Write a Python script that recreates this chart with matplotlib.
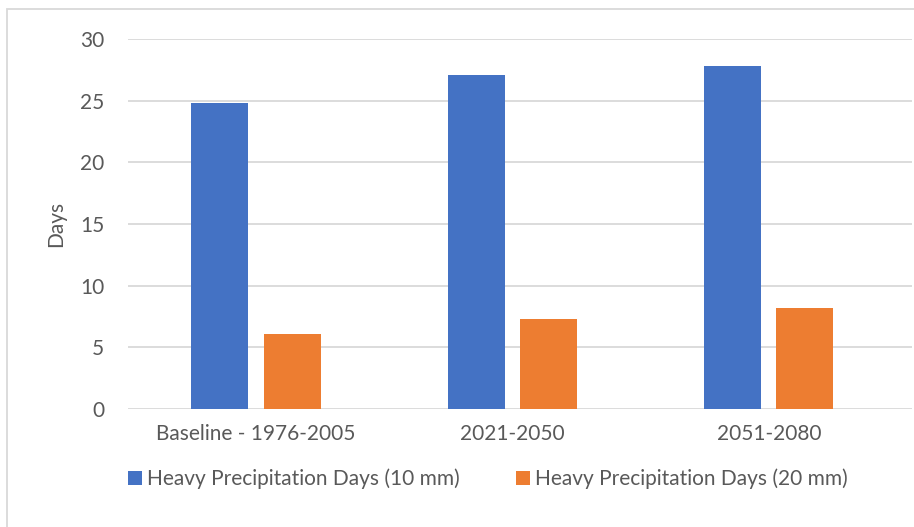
import matplotlib

matplotlib.use("Agg")
import matplotlib.pyplot as plt
import numpy as np
from matplotlib.patches import Rectangle

plt.rcParams.update({"font.family": ["Lato", "DejaVu Sans"], "font.size": 15})

PERIODS = ["Baseline - 1976-2005", "2021-2050", "2051-2080"]
DAYS_10MM = [24.8, 27.1, 27.8]
DAYS_20MM = [6.1, 7.3, 8.2]
SERIES = ["Heavy Precipitation Days (10 mm)", "Heavy Precipitation Days (20 mm)"]
COLORS = ["#4472C4", "#ED7D31"]
TEXT = "#595959"

W, H = 914, 527
fig = plt.figure(figsize=(W / 100, H / 100), dpi=100)
# plot area in pixels: x 128..912, y 39..409
ax = fig.add_axes([128 / W, 1 - 409 / H, (912 - 128) / W, (409 - 39) / H])

x = np.arange(len(PERIODS))
width = 0.222
ax.bar(x - 0.142, DAYS_10MM, width, color=COLORS[0], label=SERIES[0], zorder=3)
ax.bar(x + 0.140, DAYS_20MM, width, color=COLORS[1], label=SERIES[1], zorder=3)

ax.set_ylim(0, 30)
ax.set_yticks(range(0, 31, 5))
ax.set_xlim(-0.5, 2.5 + 15 / 256.5)
ax.set_xticks(x)
ax.set_xticklabels(PERIODS)
ax.grid(axis="y", color="#D9D9D9", lw=1.3, zorder=0)
for s in ax.spines.values():
    s.set_visible(False)
ax.tick_params(length=0, colors=TEXT, labelsize=15)
ax.tick_params(axis="x", pad=11)
ax.tick_params(axis="y", pad=17)
ax.set_ylabel("Days", color=TEXT, fontsize=15, labelpad=10)

ax.legend(loc="upper center", bbox_to_anchor=(0.459, -0.11), ncol=2, frameon=False,
          fontsize=15, labelcolor=TEXT, handlelength=0.65, handleheight=0.65,
          handletextpad=0.25, columnspacing=2.7)

fig.patches.append(Rectangle((7 / W, -0.05), 1.05, 1 - 9 / H + 0.05, transform=fig.transFigure,
                             fill=False, edgecolor="#D9D9D9", lw=1.3))
fig.savefig("out.png", dpi=100)
